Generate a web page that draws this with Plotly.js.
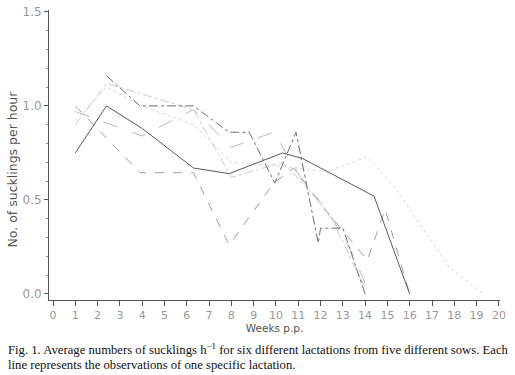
<!DOCTYPE html>
<html><head><meta charset="utf-8">
<script src="https://cdn.plot.ly/plotly-3.0.1.min.js"></script>
<style>html,body{margin:0;padding:0;background:#fff}#c{width:515px;height:375px}</style>
</head><body><div id="c"></div>
<script>
// Weeks post partum and sucklings per hour for six lactations
const weeksA = [1, 2.4, 4, 6.3, 7.9, 10.3, 11.2, 14.4, 16];
const valsA  = [0.75, 1.0, 0.88, 0.67, 0.64, 0.75, 0.72, 0.52, 0.0];
const weeksB = [1, 3.9, 6.3, 7.9, 9.9, 10.8, 12.2, 14.1, 14.9, 16];
const valsB  = [1.0, 0.645, 0.645, 0.26, 0.59, 0.67, 0.45, 0.18, 0.45, 0.0];
const weeksC = [2.4, 3.9, 6.3, 7.9, 8.8, 9.95, 10.9, 11.9, 12.0, 13.0, 14.0];
const valsC  = [1.16, 1.0, 1.0, 0.86, 0.86, 0.59, 0.86, 0.27, 0.35, 0.35, 0.0];
const weeksD = [1, 2.4, 6.3, 8, 10.3, 11.5, 12.5, 14];
const valsD  = [0.9, 1.12, 0.98, 0.62, 0.7, 0.55, 0.4, 0.03];
const weeksE = [1, 2.6, 4, 6.3, 8, 9.9, 11.3, 12.3, 13.5, 14.2];
const valsE  = [0.97, 0.9, 0.84, 0.98, 0.78, 0.86, 0.58, 0.45, 0.2, 0.0];
const weeksF = [1, 2.4, 4, 6.3, 8, 10.3, 12.3, 14.1, 15.3, 17.8, 19.3];
const valsF  = [0.92, 1.1, 1.0, 0.9, 0.7, 0.68, 0.65, 0.73, 0.57, 0.14, 0.0];
const yTicks = [0, 0.5, 1.0, 1.5];
const xTicks = [0,1,2,3,4,5,6,7,8,9,10,11,12,13,14,15,16,17,18,19,20];

function tr(x, y, color, dash, w){
  return {x:x, y:y, type:'scatter', mode:'lines', line:{color:color, dash:dash, width:w}, hoverinfo:'skip'};
}
const data = [
  tr(weeksF, valsF, '#d8d8d8', 'dot', 1),
  tr(weeksD, valsD, '#cccccc', 'dashdot', 1),
  tr(weeksE, valsE, '#bcbcbc', 'longdash', 1),
  tr(weeksB, valsB, '#a0a0a0', 'dash', 1),
  tr(weeksC, valsC, '#707070', 'dashdot', 1),
  tr(weeksA, valsA, '#5a5a5a', 'solid', 1)
];
const layout = {
  width:515, height:375,
  margin:{l:49, r:15, t:10, b:75},
  paper_bgcolor:'#fff', plot_bgcolor:'#fff',
  showlegend:false,
  font:{family:'DejaVu Sans, sans-serif', color:'#888'},
  xaxis:{range:[-0.18, 20.05], tickvals:xTicks, ticktext:xTicks.map(String),
    showgrid:false, zeroline:false, showline:true, linecolor:'#555', linewidth:1,
    ticks:'outside', ticklen:5, tickcolor:'#555', tickfont:{size:11, color:'#999'},
    title:{text:'Weeks p.p.', font:{size:10.5, color:'#555'}, standoff:2}},
  yaxis:{range:[-0.032, 1.51], tickvals:yTicks, ticktext:['0.0','0.5','1.0','1.5'],
    showgrid:false, zeroline:false, showline:true, linecolor:'#555', linewidth:1,
    ticks:'outside', ticklen:4, tickcolor:'#555', tickfont:{size:12, color:'#999'},
    minor:{tickvals:[0.1,0.2,0.3,0.4,0.6,0.7,0.8,0.9,1.1,1.2,1.3,1.4], ticks:'outside', ticklen:2, tickcolor:'#888'}},
  annotations:[
    {xref:'paper', yref:'paper', x:-0.082, y:0.45, xanchor:'center', yanchor:'middle', showarrow:false, textangle:-90,
     text:'No. of sucklings per hour', font:{family:'DejaVu Sans, sans-serif', size:12.5, color:'#555'}},
    {xref:'paper', yref:'paper', x:-0.0955, y:-0.135, xanchor:'left', yanchor:'top', showarrow:false, align:'left',
     text:'Fig. 1. Average numbers of sucklings h<sup>\u22121</sup> for six different lactations from five different sows. Each',
     font:{family:'Liberation Serif, serif', size:12.7, color:'#111'}},
    {xref:'paper', yref:'paper', x:-0.0955, y:-0.193, xanchor:'left', yanchor:'top', showarrow:false, align:'left',
     text:'line represents the observations of one specific lactation.',
     font:{family:'Liberation Serif, serif', size:12.7, color:'#111'}}
  ]
};
Plotly.newPlot('c', data, layout, {staticPlot:true, displayModeBar:false});
</script></body></html>
